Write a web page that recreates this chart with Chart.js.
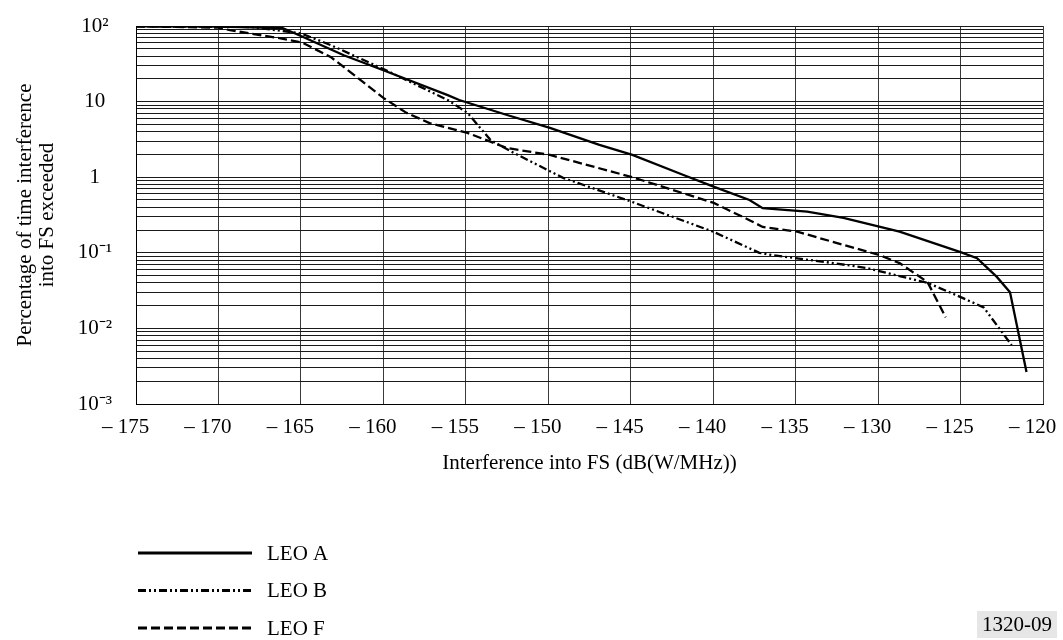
<!DOCTYPE html>
<html>
<head>
<meta charset="utf-8">
<script src="https://cdn.jsdelivr.net/npm/chart.js@4/dist/chart.umd.min.js"></script>
<style>
  html, body { margin: 0; padding: 0; background: #fff; }
  #chart { display: block; }
</style>
</head>
<body>
<canvas id="chart" width="1063" height="640"></canvas>
<script>
// Values (x: dB(W/MHz), y: % of time)
const leoAX = [-175, -170, -166.1, -164.9, -162.4, -160.0, -156.1, -155.4, -152.5, -149.9, -146.9, -144.9, -141.8, -139.9, -137.8, -137.0, -134.3, -132.1, -128.7, -125.0, -124.0, -122.8, -122.0, -121.0];
const leoAY = [99, 98, 94, 72, 41, 26, 12.2, 10.5, 6.65, 4.5, 2.67, 1.97, 1.07, 0.74, 0.50, 0.39, 0.35, 0.29, 0.19, 0.102, 0.085, 0.048, 0.030, 0.00265];

const leoBX = [-175, -168, -165, -163.2, -160.0, -156.1, -154.9, -153.5, -152.1, -149.1, -144.9, -140.0, -137.2, -136.4, -132.7, -130.7, -127.0, -125.5, -123.6, -121.9];
const leoBY = [99, 97, 80, 56, 27, 10.5, 7.1, 3.1, 2.1, 0.98, 0.47, 0.19, 0.10, 0.093, 0.073, 0.063, 0.040, 0.029, 0.019, 0.006];

const leoFX = [-175, -170, -169.3, -166.3, -164.9, -163.2, -161.6, -160.0, -158.6, -157.2, -156.1, -154.9, -152.5, -149.9, -144.9, -140.0, -137.8, -137.0, -134.9, -129.9, -128.7, -127.0, -125.9];
const leoFY = [99, 95, 88, 69, 60, 39, 21, 11.2, 7.1, 5.2, 4.5, 3.85, 2.43, 1.97, 1.0, 0.46, 0.27, 0.22, 0.19, 0.093, 0.073, 0.041, 0.014];

const seriesNames = ['LEO A', 'LEO B', 'LEO F'];

// Axis ticks
const xTickValues = [-175, -170, -165, -160, -155, -150, -145, -140, -135, -130, -125, -120];
const yDecades = [0.001, 0.01, 0.1, 1, 10, 100];
const yDecadeLabels = ['10\u207B\u00B3', '10\u207B\u00B2', '10\u207B\u00B9', '1', '10', '10\u00B2'];
const yMinorSteps = [2, 3, 4, 5, 6, 7, 8, 9];

const FONT = 'Liberation Serif, Times New Roman, serif';
const FS = 21;
const ctx = document.getElementById('chart').getContext('2d');

const toPoints = (xs, ys) => xs.map((x, i) => ({ x: x, y: ys[i] }));

// legend under the plot + figure number, drawn on the canvas
const extrasPlugin = {
    id: 'extras',
    afterDraw: (chart) => {
        const c = chart.ctx;
        c.save();
        chart.data.datasets.forEach((ds, i) => {
            const y = 553 + i * 37.5;
            c.strokeStyle = ds.borderColor;
            c.lineWidth = 3;
            c.setLineDash(ds.borderDash || []);
            c.beginPath();
            c.moveTo(138, y);
            c.lineTo(252, y);
            c.stroke();
            c.setLineDash([]);
            c.fillStyle = '#000';
            c.font = FS + 'px ' + FONT;
            c.textAlign = 'left';
            c.textBaseline = 'middle';
            c.fillText(ds.label, 267, y + 1);
        });
        c.fillStyle = '#e6e6e6';
        c.fillRect(977, 611, 80, 27);
        c.fillStyle = '#000';
        c.font = FS + 'px ' + FONT;
        c.textAlign = 'center';
        c.textBaseline = 'middle';
        c.fillText('1320-09', 1017, 625);
        c.restore();
    }
};

const lineStyle = (label, xs, ys, dash) => ({
    label: label,
    data: toPoints(xs, ys),
    borderColor: '#000',
    borderWidth: 2.3,
    borderDash: dash,
    pointRadius: 0,
    tension: 0,
    fill: false
});

new Chart(ctx, {
    type: 'line',
    data: {
        datasets: [
            lineStyle(seriesNames[0], leoAX, leoAY, []),
            lineStyle(seriesNames[1], leoBX, leoBY, [8, 3, 2, 3, 2, 3]),
            lineStyle(seriesNames[2], leoFX, leoFY, [9, 4])
        ]
    },
    options: {
        responsive: false,
        animation: false,
        layout: { padding: { top: 26, right: 20, left: 0, bottom: 156 } },
        plugins: { legend: { display: false }, tooltip: { enabled: false } },
        scales: {
            x: {
                type: 'linear',
                min: -175,
                max: -120,
                afterBuildTicks: (scale) => {
                    scale.ticks = xTickValues.map(v => ({ value: v }));
                },
                afterFit: (scale) => {
                    scale.height = 80;
                    scale.paddingLeft = 0;
                    scale.paddingRight = 0;
                },
                ticks: {
                    autoSkip: false,
                    maxRotation: 0,
                    padding: 11,
                    color: '#000',
                    font: { family: FONT, size: FS },
                    callback: (v) => '\u2013 ' + Math.abs(v) + '\u2003'
                },
                grid: { color: '#3a3a3a', lineWidth: 1, drawTicks: false },
                border: { color: '#000', width: 1 },
                title: {
                    display: true,
                    text: 'Interference into FS (dB(W/MHz))',
                    color: '#000',
                    font: { family: FONT, size: FS },
                    padding: { top: 0, bottom: 8 }
                }
            },
            y: {
                type: 'logarithmic',
                min: 0.001,
                max: 100,
                afterBuildTicks: (scale) => {
                    const ticks = [];
                    yDecades.forEach((d, i) => {
                        ticks.push({ value: d });
                        if (i < yDecades.length - 1) {
                            yMinorSteps.forEach(m => ticks.push({ value: +(d * m).toPrecision(3) }));
                        }
                    });
                    scale.ticks = ticks;
                },
                afterFit: (scale) => {
                    scale.width = 136;
                    scale.paddingTop = 0;
                    scale.paddingBottom = 0;
                },
                ticks: {
                    autoSkip: false,
                    padding: 24,
                    crossAlign: 'center',
                    color: '#000',
                    font: { family: FONT, size: FS },
                    callback: (v) => {
                        const idx = yDecades.findIndex(d => Math.abs(d - v) < d * 1e-6);
                        return idx >= 0 ? yDecadeLabels[idx] : '';
                    }
                },
                grid: { color: '#1a1a1a', lineWidth: 1, drawTicks: false },
                border: { color: '#000', width: 1 },
                title: {
                    display: true,
                    text: ['Percentage of time interference', 'into FS exceeded'],
                    color: '#000',
                    font: { family: FONT, size: FS, lineHeight: 1.05 },
                    padding: { top: 14, bottom: 0 }
                }
            }
        }
    },
    plugins: [extrasPlugin]
});
</script>
</body>
</html>
